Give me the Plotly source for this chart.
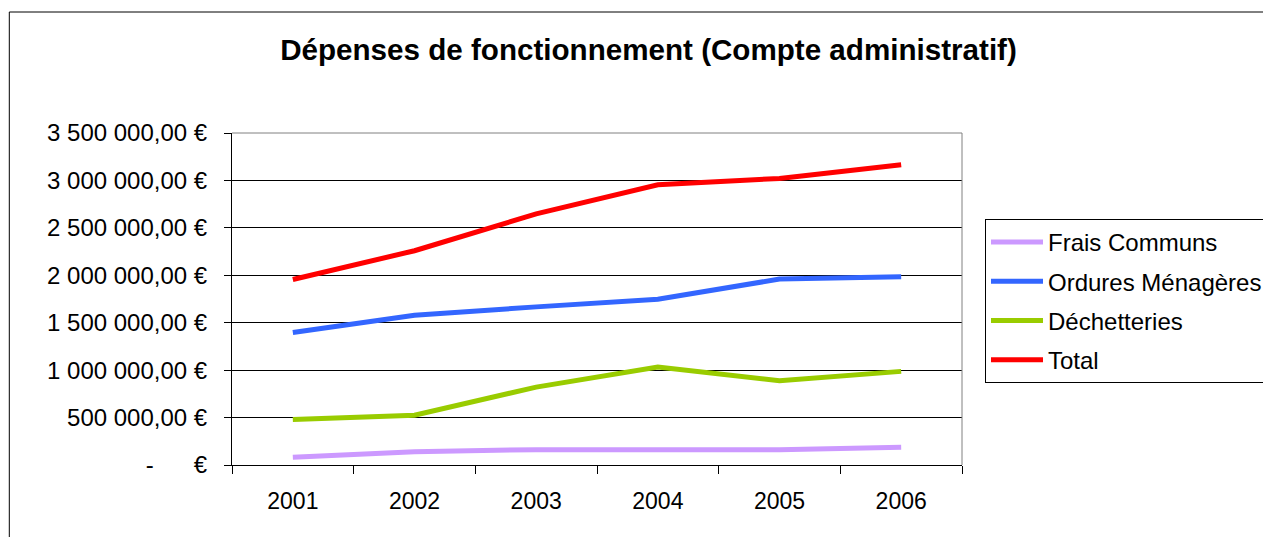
import plotly.graph_objects as go

years = ["2001", "2002", "2003", "2004", "2005", "2006"]
frais_communs = [81000, 141000, 162000, 162000, 162000, 187000]
ordures_menageres = [1396000, 1579000, 1667000, 1748000, 1960000, 1984000]
dechetteries = [479000, 525000, 821000, 1033000, 888000, 987000]
total = [1956000, 2259000, 2647000, 2954000, 3021000, 3165000]

series_names = ["Frais Communs", "Ordures Ménagères", "Déchetteries", "Total"]
series_values = [frais_communs, ordures_menageres, dechetteries, total]
series_colors = ["#CC99FF", "#3366FF", "#99CC00", "#FF0000"]

y_tickvals = [0, 500000, 1000000, 1500000, 2000000, 2500000, 3000000, 3500000]
y_ticktext = ["-\u00a0\u00a0\u00a0\u00a0\u00a0\u00a0€", "500 000,00 €", "1 000 000,00 €", "1 500 000,00 €",
              "2 000 000,00 €", "2 500 000,00 €", "3 000 000,00 €", "3 500 000,00 €"]

FONT = "Liberation Sans, Arial, sans-serif"

fig = go.Figure()
for i, (name, vals, col) in enumerate(zip(series_names, series_values, series_colors)):
    fig.add_trace(go.Scatter(
        x=years, y=vals, name=name, mode="lines",
        line=dict(color=col, width=5),
        legendgroup=f"g{i}",
    ))

OFF = 8  # page body margin
W, H = 1271, 537
L, R, T, B = 232 - OFF, 963 - OFF, 133 - OFF, 465 - OFF
pw, ph = R - L, B - T

def px(x):
    return (x - OFF - L) / pw

def py(y):
    return (B - (y - OFF)) / ph

fig.update_layout(
    width=W, height=H,
    margin=dict(l=L, r=W - R, t=T, b=H - B, pad=0),
    paper_bgcolor="white", plot_bgcolor="white",
    font=dict(family=FONT, color="black"),
    title=dict(text="<b>Dépenses de fonctionnement (Compte administratif)</b>",
               x=(648.5 - OFF) / W, xanchor="center", y=1 - (50 - OFF) / H, yanchor="middle",
               font=dict(size=29.6, family=FONT, color="black")),
    showlegend=True,
    legend=dict(x=px(985), xanchor="left", y=py(219), yanchor="top",
                bordercolor="black", borderwidth=1, bgcolor="white",
                font=dict(size=24, family=FONT, color="black"),
                tracegroupgap=5, itemwidth=52),
    xaxis=dict(type="category", range=[-0.5, 5.5], showgrid=False,
               showline=True, linecolor="black", linewidth=1,
               ticks="outside", ticklen=8, tickcolor="black", tickson="boundaries",
               ticklabelstandoff=15,
               tickfont=dict(size=23, family=FONT, color="black"),
               fixedrange=True),
    yaxis=dict(range=[0, 3500000], tickvals=y_tickvals, ticktext=y_ticktext,
               showgrid=True, gridcolor="black", gridwidth=1,
               showline=True, linecolor="black", linewidth=1,
               ticks="outside", ticklen=7, tickcolor="black",
               ticklabelstandoff=12,
               tickfont=dict(size=24, family=FONT, color="black"),
               zeroline=False, fixedrange=True),
    shapes=[
        # outer chart border
        dict(type="rect", xref="paper", yref="paper",
             x0=px(9), x1=px(1300), y0=py(580), y1=py(12),
             line=dict(color="black", width=1), fillcolor="rgba(0,0,0,0)", layer="below"),
        # gray top and right plot borders
        dict(type="line", xref="paper", yref="paper", x0=0, x1=1, y0=1, y1=1,
             line=dict(color="#808080", width=1), layer="above"),
        dict(type="line", xref="paper", yref="paper", x0=1, x1=1, y0=0, y1=1,
             line=dict(color="#808080", width=1), layer="above"),
    ],
)

fig.write_html("out.html")
